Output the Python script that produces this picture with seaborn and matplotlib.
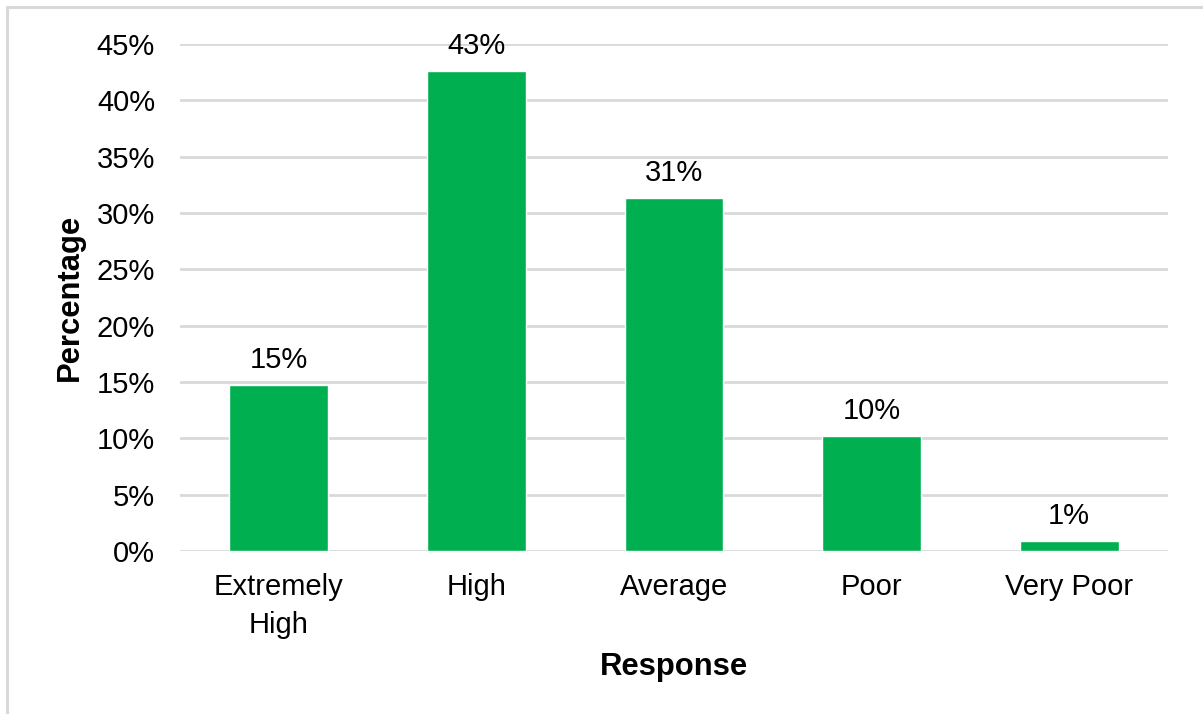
import matplotlib
matplotlib.use("Agg")
import matplotlib.pyplot as plt
import seaborn as sns
import pandas as pd
from matplotlib.lines import Line2D
from matplotlib.ticker import FuncFormatter

categories = ["Extremely\nHigh", "High", "Average", "Poor", "Very Poor"]
values = [14.7, 42.6, 31.3, 10.2, 0.9]
yticks = [0, 5, 10, 15, 20, 25, 30, 35, 40, 45]

sns.set_theme(style="white")
plt.rcParams["font.family"] = ["Liberation Sans", "DejaVu Sans"]

df = pd.DataFrame({"Response": categories, "Percentage": values})

fig = plt.figure(figsize=(12.03, 7.14), dpi=100)
ax = fig.add_axes([180/1203, 1-551/714, 988/1203, 507/714])

sns.barplot(data=df, x="Response", y="Percentage", color="#00B050",
            width=0.5, saturation=1, ax=ax, zorder=3)

ax.set_ylim(0, 45)
ax.set_xlim(-0.5, 4.5)
ax.set_yticks(yticks)
ax.yaxis.set_major_formatter(FuncFormatter(lambda v, p: f"{v:.0f}%"))
ax.grid(axis="y", color="#D9D9D9", linewidth=2, zorder=0)
ax.set_axisbelow(True)
for s in ax.spines.values():
    s.set_visible(False)
ax.tick_params(axis="both", length=0, labelsize=21, colors="#000000")
ax.tick_params(axis="y", pad=18)
ax.tick_params(axis="x", pad=16)
for lbl in ax.get_xticklabels():
    lbl.set_linespacing(1.45)

for c in ax.containers:
    t = ax.bar_label(c, labels=[f"{v:.0f}%" for v in values], padding=8,
                     fontsize=21, color="#000000")
    for tt in t:
        tt.set_clip_on(False)

ax.set_xlabel("Response", fontsize=22.3, fontweight="bold", color="#000000")
ax.set_ylabel("Percentage", fontsize=22.3, fontweight="bold", color="#000000")
ax.xaxis.set_label_coords(0.5, (551-652)/507)
ax.yaxis.set_label_coords((85-180)/988, 0.5)

fig.add_artist(Line2D([7/1203, 7/1203], [0, 1-7/714], transform=fig.transFigure,
                      color="#D9D9D9", linewidth=2.2))
fig.add_artist(Line2D([7/1203, 1], [1-7/714, 1-7/714], transform=fig.transFigure,
                      color="#D9D9D9", linewidth=2.2))

fig.savefig("out.png", dpi=100, facecolor="white")
